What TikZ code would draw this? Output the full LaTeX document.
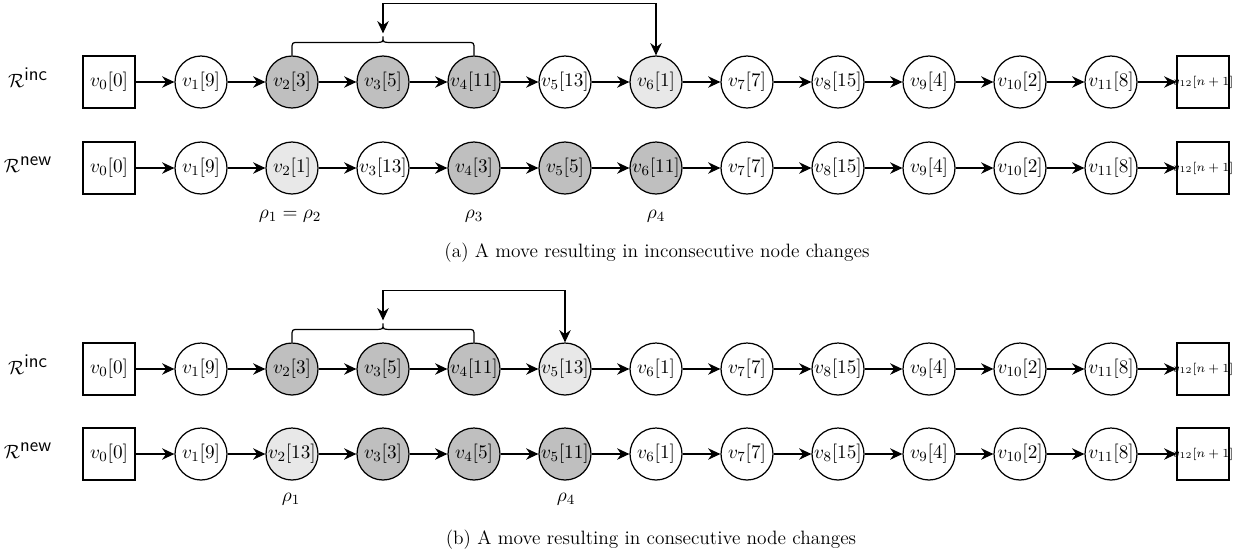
\documentclass[tikz,border=0pt]{standalone}
\usetikzlibrary{arrows.meta,calc}
\tikzset{
  circ/.style={circle, draw, line width=0.7pt, minimum size=1.04cm, inner sep=0pt},
  sq/.style={rectangle, draw, line width=0.7pt, minimum size=1.04cm, inner sep=0pt},
  wht/.style={fill=white},
  drk/.style={fill=gray!50},
  lgt/.style={fill=gray!18},
  arr/.style={-{Stealth[length=7pt,width=6.5pt]}, line width=0.7pt},
  dblarr/.style={{Stealth[length=7pt,width=6.5pt]}-{Stealth[length=7pt,width=6.5pt]}, line width=0.7pt},
  brc/.style={line width=0.7pt},
  lab/.style={inner sep=0pt},
}
\newcommand{\chainrow}[3]{%
  \node[sq] (#1v0) at (109,#2) {$v_0[0]$};
  \foreach \i/\lab/\st in {#3} {
    \node[circ,\st] (#1v\i) at ({201+91*(\i-1)},#2) {$v_{\i}[\lab]$};
  }
  \node[sq] (#1v12) at (1203,#2) {\makebox[0pt]{\fontsize{7}{8}\selectfont$v_{12}[n+1]$}};
  \foreach \i [count=\j from 0] in {1,...,12} {\draw[arr] (#1v\j) -- (#1v\i);}
}
\newcommand{\bracearrow}[2]{%
  \draw[brc] (#1v2.north) -- ($(#1v2.north)+(0,-6)$)
    .. controls ($(#1v2.north)+(0,-13)$) .. ($(#1v2.north)+(7,-13)$)
    -- ($(#1v3.north)+(-7,-13)$)
    .. controls ($(#1v3.north)+(0,-13)$) .. ($(#1v3.north)+(0,-19)$)
    .. controls ($(#1v3.north)+(0,-13)$) .. ($(#1v3.north)+(7,-13)$)
    -- ($(#1v4.north)+(-7,-13)$)
    .. controls ($(#1v4.north)+(0,-13)$) .. ($(#1v4.north)+(0,-6)$)
    -- (#1v4.north);
  \coordinate (#1Tip) at ($(#1v3.north)+(0,-22)$);
  \coordinate (#1Top) at ($(#1v3.north)+(0,-52)$);
  \draw[dblarr] (#1Tip) -- (#1Top) -| (#1v#2.north);
}
\begin{document}
\fontsize{11}{13.6}\selectfont
\begin{tikzpicture}[x=0.02cm,y=-0.02cm]
\useasboundingbox (0,0) rectangle (1240,556);
% (a)
\node[lab] (aRi) at (28,78) {$\mathcal{R}^{\textsf{inc}}$};
\node[lab] (aRn) at (28,165) {$\mathcal{R}^{\textsf{new}}$};
\chainrow{aI}{82}{1/9/wht,2/3/drk,3/5/drk,4/11/drk,5/13/wht,6/1/lgt,7/7/wht,8/15/wht,9/4/wht,10/2/wht,11/8/wht}
\chainrow{aN}{168}{1/9/wht,2/1/lgt,3/13/wht,4/3/drk,5/5/drk,6/11/drk,7/7/wht,8/15/wht,9/4/wht,10/2/wht,11/8/wht}
\bracearrow{aI}{6}
\node[lab] (arho12) at (290,216) {$\rho_1=\rho_2$};
\node[lab] (arho3) at (474,216) {$\rho_3$};
\node[lab] (arho4) at (656,216) {$\rho_4$};
\node[lab] (capa) at (657,253) {(a) A move resulting in inconsecutive node changes};
% (b)
\node[lab] (bRi) at (28,365) {$\mathcal{R}^{\textsf{inc}}$};
\node[lab] (bRn) at (28,451) {$\mathcal{R}^{\textsf{new}}$};
\chainrow{bI}{369}{1/9/wht,2/3/drk,3/5/drk,4/11/drk,5/13/lgt,6/1/wht,7/7/wht,8/15/wht,9/4/wht,10/2/wht,11/8/wht}
\chainrow{bN}{454}{1/9/wht,2/13/lgt,3/3/drk,4/5/drk,5/11/drk,6/1/wht,7/7/wht,8/15/wht,9/4/wht,10/2/wht,11/8/wht}
\bracearrow{bI}{5}
\node[lab] (brho1) at (291,499) {$\rho_1$};
\node[lab] (brho4) at (566,499) {$\rho_4$};
\node[lab] (capb) at (651,540) {(b) A move resulting in consecutive node changes};
\end{tikzpicture}
\end{document}
